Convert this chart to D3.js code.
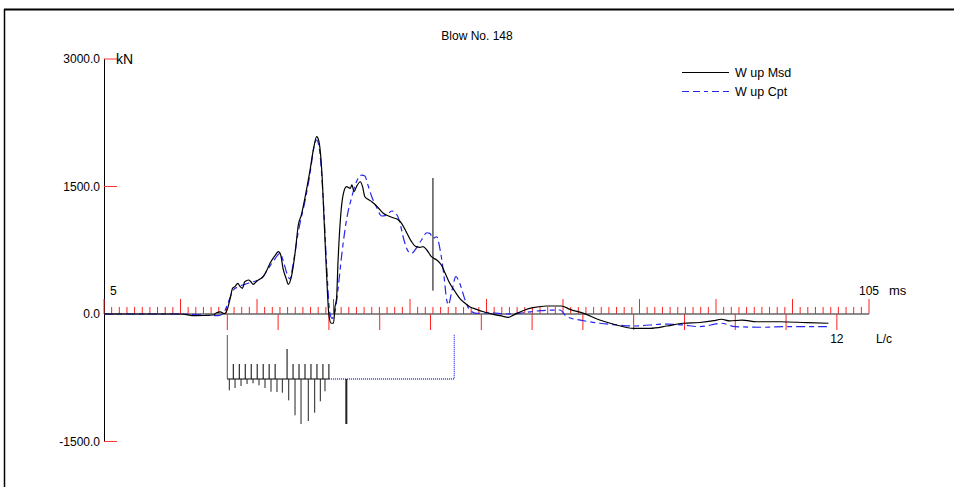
<!DOCTYPE html>
<html>
<head>
<meta charset="utf-8">
<script src="https://cdn.jsdelivr.net/npm/d3@7"></script>
<style>
body { margin: 0; background: #fff; }
text { font-family: "Liberation Sans", Arial, sans-serif; fill: #000; }
</style>
</head>
<body>
<svg width="954" height="487"></svg>
<script>
// measured wave up (ms, kN)
var msdT = [5, 15, 16.9, 19.3, 19.7, 20.2, 20.7, 21.0, 21.5, 21.8, 22.1, 22.5, 22.8, 23.1, 23.4, 23.9, 24.2, 24.5, 25.0, 25.4, 25.8, 26.3, 26.7, 27.4, 27.8, 28.1, 28.4, 28.8, 29.1, 29.5, 30.0, 30.4, 30.8, 31.3, 31.9, 32.4, 32.8, 33.1, 33.5, 33.8, 34.1, 34.4, 34.7, 35.0, 35.2, 35.4, 35.6, 36.0, 36.3, 36.7, 37.2, 37.4, 37.7, 38.0, 38.5, 38.8, 39.1, 39.5, 40.0, 40.4, 40.9, 41.5, 42.2, 42.8, 43.5, 43.9, 44.6, 45.2, 45.8, 46.3, 46.7, 47.2, 47.8, 48.5, 49.1, 49.6, 50.2, 50.9, 51.5, 52.2, 52.8, 53.7, 54.6, 55.9, 56.8, 57.9, 58.7, 60.0, 61.1, 62.9, 64.8, 65.9, 67.7, 69.8, 72.0, 74.2, 76.4, 78.6, 80.7, 82.9, 84.7, 85.7, 86.8, 88.4, 90.3, 93.4, 96.9, 99.7]
var msdF = [0, 0, -20, -12, 15, 24, 4, 27, 185, 302, 321, 361, 321, 302, 380, 400, 380, 349, 388, 412, 439, 518, 596, 694, 733, 694, 538, 420, 349, 439, 733, 1047, 1165, 1380, 1674, 1949, 2086, 2027, 1635, 1047, 459, -12, -109, -109, 86, 185, 635, 1224, 1420, 1498, 1479, 1518, 1439, 1498, 1556, 1498, 1380, 1349, 1321, 1291, 1244, 1185, 1153, 1133, 1106, 1067, 949, 851, 792, 785, 792, 753, 674, 635, 576, 479, 361, 262, 185, 126, 86, 55, 27, -4, -20, -39, -4, 47, 74, 94, 94, 55, 8, -71, -129, -168, -168, -141, -109, -100, -79, -62, -82, -71, -91, -91, -102, -109]

// computed wave up (ms, kN)
var cptT = [5, 15, 19.9, 20.6, 21.2, 21.9, 22.6, 23.4, 24.5, 25.6, 26.5, 27.4, 28.0, 28.4, 28.9, 29.3, 29.7, 30.4, 31.3, 31.9, 32.5, 32.8, 33.2, 33.7, 34.1, 34.5, 34.8, 35.2, 35.6, 36.1, 36.7, 37.4, 38.0, 38.7, 39.1, 39.5, 40.0, 40.6, 41.3, 42.0, 42.6, 43.3, 43.7, 44.1, 44.8, 45.2, 45.9, 46.5, 47.2, 47.6, 48.0, 48.5, 48.9, 49.4, 49.8, 50.0, 50.5, 51.0, 51.5, 52.2, 52.8, 53.7, 55.5, 57.6, 59.8, 62.0, 64.6, 65.5, 67.7, 69.8, 72.0, 74.2, 78.6, 80.7, 82.9, 85.7, 87.5, 91.2, 94.2, 99.5]
var cptF = [0, 0, -20, 8, 126, 282, 321, 349, 380, 420, 538, 655, 714, 635, 479, 412, 576, 968, 1341, 1635, 1988, 2047, 1909, 1282, 576, 27, -51, 27, 302, 714, 1106, 1380, 1556, 1635, 1624, 1518, 1380, 1262, 1153, 1165, 1212, 1165, 1067, 909, 733, 714, 785, 871, 956, 949, 891, 909, 773, 479, 165, 106, 282, 439, 361, 165, 47, 8, 15, 0, 15, 39, 47, -32, -79, -109, -129, -141, -118, -129, -149, -109, -149, -156, -149, -149]

var yTicks = [3000, 1500, 0, -1500]
var marker = {t: 48.0, from: 275, to: 1600}

// resistance distribution (L/c units, kN)
var shaftUp = [150, 150, 150, 150, 150, 150, 150, 150, 0, 300, 150, 150, 150, 150, 150, 150, 150]
var shaftPos = [0.039, 0.152, 0.270, 0.388, 0.506, 0.624, 0.742, 0.860, 0.978, 1.083, 1.209, 1.333, 1.451, 1.594, 1.720, 1.831, 1.923]
var shaftDown = [113, 90, 70, 50, 43, 63, 90, 127, 130, 137, 213, 363, 450, 420, 337, 223, 123]
var toe = {u: 2.343, r: 450}
var pileEnd = 2.0, quakeEnd = 4.468

var svg = d3.select("svg")

var x = d3.scaleLinear().domain([5, 105]).range([104, 869])
var y = d3.scaleLinear().domain([-1500, 3000]).range([441.5, 59])
var lc = d3.scaleLinear().domain([0, 12]).range([x(21.12), x(21.12 + 12 * 6.64)])
var r = d3.scaleLinear().domain([0, 100]).range([379, 389])

var blue = "#2626ee"

// frame
svg.append("line").attr("x1", 4).attr("x2", 954).attr("y1", 9.5).attr("y2", 9.5)
    .attr("stroke", "#000").attr("stroke-width", 2)
svg.append("line").attr("x1", 4.5).attr("x2", 4.5).attr("y1", 9).attr("y2", 487)
    .attr("stroke", "#000").attr("stroke-width", 1.5)

svg.append("text").attr("x", 477).attr("y", 40).attr("text-anchor", "middle")
    .style("font-size", "12px").text("Blow No. 148")

// y axis
svg.append("line").attr("x1", 104.5).attr("x2", 104.5).attr("y1", y(3000)).attr("y2", y(-1500))
    .attr("stroke", "#000")
svg.selectAll(".ytick").data(yTicks).enter().append("line")
    .attr("x1", 104).attr("x2", 117)
    .attr("y1", function(d) { return y(d) }).attr("y2", function(d) { return y(d) })
    .attr("stroke", "#f33")
svg.selectAll(".ylab").data(yTicks).enter().append("text")
    .attr("x", 100).attr("y", function(d) { return y(d) + 4 })
    .attr("text-anchor", "end").style("font-size", "12px")
    .text(function(d) { return d.toFixed(1) })
svg.append("text").attr("x", 116).attr("y", 64).style("font-size", "14px").text("kN")

// ms ticks
var msTicks = d3.range(5, 106, 1)
svg.selectAll(".mstick").data(msTicks).enter().append("line")
    .attr("x1", function(d) { return x(d) }).attr("x2", function(d) { return x(d) })
    .attr("y1", function(d) { return (d - 5) % 10 == 0 ? y(0) - 15 : y(0) - 7 })
    .attr("y2", y(0))
    .attr("stroke", "#f22")
// L/c ticks
svg.selectAll(".lctick").data(d3.range(0, 13)).enter().append("line")
    .attr("x1", function(d) { return lc(d) }).attr("x2", function(d) { return lc(d) })
    .attr("y1", y(0)).attr("y2", y(0) + 16)
    .attr("stroke", "#f22")

svg.append("line").attr("x1", x(5)).attr("x2", x(105)).attr("y1", y(0)).attr("y2", y(0))
    .attr("stroke", "#666").attr("stroke-width", 1.5)

svg.append("text").attr("x", 110).attr("y", 295).style("font-size", "12px").text("5")
svg.append("text").attr("x", x(105)).attr("y", 295).attr("text-anchor", "middle").style("font-size", "12px").text("105")
svg.append("text").attr("x", 889).attr("y", 295).style("font-size", "13px").text("ms")
svg.append("text").attr("x", lc(12)).attr("y", 343).attr("text-anchor", "middle").style("font-size", "12px").text("12")
svg.append("text").attr("x", 876).attr("y", 343).style("font-size", "12px").text("L/c")

// curves
var line = d3.line().x(function(d) { return x(d[0]) }).y(function(d) { return y(d[1]) }).curve(d3.curveMonotoneX)

svg.append("path").datum(cptT.map(function(t, i) { return [t, cptF[i]] }))
    .attr("d", line).attr("fill", "none").attr("stroke", blue).attr("stroke-width", 1.2)
    .attr("stroke-dasharray", "9,4,5,4")
svg.append("path").datum(msdT.map(function(t, i) { return [t, msdF[i]] }))
    .attr("d", line).attr("fill", "none").attr("stroke", "#000").attr("stroke-width", 1.2)

svg.append("line").attr("x1", x(marker.t)).attr("x2", x(marker.t))
    .attr("y1", y(marker.to)).attr("y2", y(marker.from)).attr("stroke", "#000")

// legend
svg.append("line").attr("x1", 682).attr("x2", 729).attr("y1", 72.5).attr("y2", 72.5).attr("stroke", "#000")
svg.append("text").attr("x", 735).attr("y", 76.5).style("font-size", "12.5px").text("W up Msd")
svg.append("line").attr("x1", 682).attr("x2", 729).attr("y1", 91.5).attr("y2", 91.5)
    .attr("stroke", blue).attr("stroke-dasharray", "7,4,7,4,4,4")
svg.append("text").attr("x", 735).attr("y", 95.5).style("font-size", "12.5px").text("W up Cpt")

// resistance distribution
var rd = svg.append("g")
rd.append("line").attr("x1", lc(0)).attr("x2", lc(0)).attr("y1", r(0)).attr("y2", r(-440))
    .attr("stroke", "#555")
rd.append("line").attr("x1", lc(0)).attr("x2", lc(pileEnd)).attr("y1", r(0)).attr("y2", r(0))
    .attr("stroke", "#000")
rd.append("path")
    .attr("d", "M" + lc(pileEnd) + "," + r(0) + "H" + lc(quakeEnd) + "V" + r(-450))
    .attr("fill", "none").attr("stroke", "#2a3cff").attr("stroke-width", 1.3).attr("stroke-dasharray", "1,1")
rd.selectAll(".up").data(shaftUp).enter().append("line")
    .attr("x1", function(d, i) { return lc(pileEnd * (i + 1) / 17) })
    .attr("x2", function(d, i) { return lc(pileEnd * (i + 1) / 17) })
    .attr("y1", r(0)).attr("y2", function(d) { return r(-d) })
    .attr("stroke", "#000")
rd.selectAll(".down").data(shaftDown).enter().append("line")
    .attr("x1", function(d, i) { return lc(shaftPos[i]) })
    .attr("x2", function(d, i) { return lc(shaftPos[i]) })
    .attr("y1", r(0)).attr("y2", function(d) { return r(d) })
    .attr("stroke", "#222")
rd.append("line").attr("x1", lc(toe.u)).attr("x2", lc(toe.u)).attr("y1", r(0)).attr("y2", r(toe.r))
    .attr("stroke", "#222").attr("stroke-width", 2)
</script>
</body>
</html>
